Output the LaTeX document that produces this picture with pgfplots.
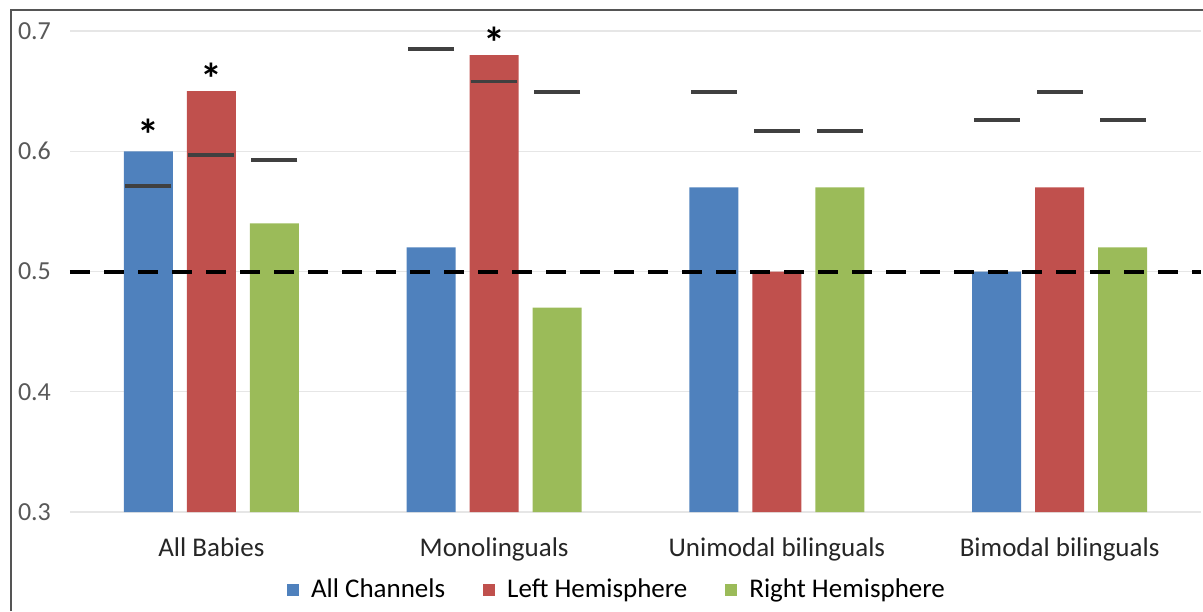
\documentclass[border=0pt]{standalone}
\usepackage{fontspec}
\setmainfont{Carlito}
\usepackage{pgfplots}
\pgfplotsset{compat=1.18}
\definecolor{cblue}{HTML}{4F81BD}
\definecolor{cred}{HTML}{C0504D}
\definecolor{cgreen}{HTML}{9BBB59}
\definecolor{cthr}{HTML}{404040}
\definecolor{cgrid}{HTML}{E6E6E6}
\definecolor{ctick}{HTML}{595959}
\definecolor{cframe}{HTML}{555555}
\begin{document}
\begin{tikzpicture}
\begin{axis}[
  scale only axis,
  width=565.5pt, height=251pt,
  xmin=-0.5, xmax=3.5,
  ymin=0.3, ymax=0.7175,
  axis line style={draw=none},
  major tick length=0pt,
  ytick={0.3,0.4,0.5,0.6,0.7},
  ymajorgrids, grid style={cgrid, line width=0.6pt},
  xtick={0,1,2,3},
  xticklabels={All Babies, Monolinguals, Unimodal bilinguals, Bimodal bilinguals},
  /pgf/number format/assume math mode=true,
  yticklabel style={/pgf/number format/fixed, /pgf/number format/precision=1, /pgf/number format/fixed zerofill, font=\fontsize{13}{15}\selectfont, text=ctick, xshift=-6pt},
  xticklabel style={font=\fontsize{13.5}{15}\selectfont, text=black!85, yshift=-9.5pt},
  bar width=24.5pt,
  clip=false,
  legend columns=3,
  legend style={draw=none, fill=none, at={(rel axis cs:0.4845,-0.1554)}, anchor=center,
    font=\fontsize{13.5}{15}\selectfont,
    /tikz/every odd column/.append style={column sep=4pt},
    /tikz/every even column/.append style={column sep=17pt}},
]
\addplot[ybar, bar shift=-31.5pt, fill=cblue, draw=none,
  legend image code/.code={\fill[cblue] (0pt,-3pt) rectangle (6pt,3pt);}]
  coordinates {(0,0.60) (1,0.52) (2,0.57) (3,0.50)};
\addplot[ybar, bar shift=0pt, fill=cred, draw=none,
  legend image code/.code={\fill[cred] (0pt,-3pt) rectangle (6pt,3pt);}]
  coordinates {(0,0.65) (1,0.68) (2,0.50) (3,0.57)};
\addplot[ybar, bar shift=31.5pt, fill=cgreen, draw=none,
  legend image code/.code={\fill[cgreen] (0pt,-3pt) rectangle (6pt,3pt);}]
  coordinates {(0,0.54) (1,0.47) (2,0.57) (3,0.52)};
\legend{All Channels, Left Hemisphere, Right Hemisphere}
% chance level
\addplot[black, line width=2pt, dash pattern=on 10pt off 7pt, forget plot]
  coordinates {(-0.5,0.5) (3.5,0.5)};
% significance thresholds
\addplot[only marks, mark=-, mark size=11.5pt, mark options={line width=1.9pt, draw=cthr}, forget plot]
  coordinates {
  (-0.2228,0.571) (0,0.597) (0.2228,0.5925)
  (0.7772,0.685) (1,0.658) (1.2228,0.649)
  (1.7772,0.649) (2,0.617) (2.2228,0.617)
  (2.7772,0.626) (3,0.6495) (3.2228,0.626)};
% significance stars
\addplot[only marks, mark=text, text mark={\fontsize{22}{22}\selectfont\bfseries *}, forget plot]
  coordinates {(-0.2228,0.614) (0,0.6605) (1,0.6904)};
% frame
\draw[cframe, line width=1pt] (rel axis cs:-0.0522,-0.1972) -- (rel axis cs:-0.0522,1) -- (rel axis cs:1.0018,1);
\end{axis}
\pgfresetboundingbox
\useasboundingbox ([shift={(-35pt,-49.5pt)}]current axis.south west) rectangle ([shift={(1pt,5pt)}]current axis.north east);
\end{tikzpicture}
\end{document}
